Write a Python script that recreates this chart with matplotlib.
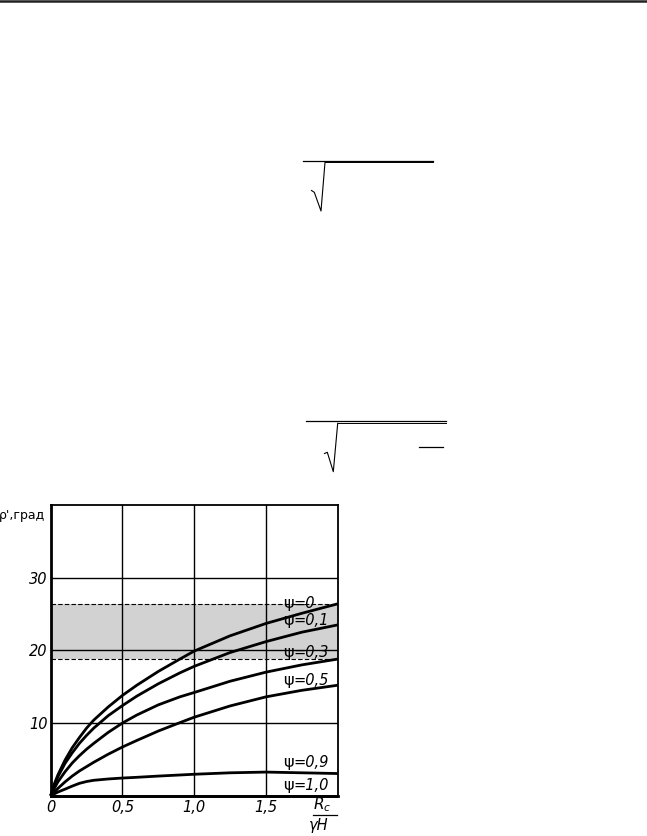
import matplotlib
matplotlib.use("Agg")
import matplotlib.pyplot as plt
from matplotlib.lines import Line2D

# ---- data ----
x_vals = [0, 0.025, 0.05, 0.1, 0.15, 0.2, 0.25, 0.3, 0.4, 0.5, 0.6, 0.75, 0.9,
          1.0, 1.25, 1.5, 1.75, 2.0]
psi_0 = [0, 1.6, 2.85, 4.9, 6.6, 8.0, 9.3, 10.4, 12.2, 13.8, 15.2, 17.1, 18.8,
         19.9, 22.0, 23.7, 25.1, 26.4]
psi_01 = [0, 1.45, 2.6, 4.45, 5.9, 7.2, 8.3, 9.3, 11.0, 12.4, 13.7, 15.4, 16.9,
          17.8, 19.7, 21.2, 22.5, 23.5]
psi_03 = [0, 1.0, 1.9, 3.3, 4.5, 5.5, 6.4, 7.2, 8.7, 10.0, 11.1, 12.5, 13.6,
          14.2, 15.75, 17.0, 18.0, 18.8]
psi_05 = [0, 0.5, 1.0, 1.9, 2.7, 3.4, 4.0, 4.6, 5.7, 6.7, 7.6, 8.9, 10.05,
          10.8, 12.35, 13.6, 14.5, 15.2]
psi_09 = [0, 0.25, 0.5, 0.9, 1.32, 1.7, 1.95, 2.12, 2.3, 2.43, 2.53, 2.7, 2.85,
          2.95, 3.15, 3.25, 3.15, 3.05]
psi_10 = [0] * len(x_vals)

series = [psi_0, psi_01, psi_03, psi_05, psi_09, psi_10]
labels = ["=0", "=0,1", "=0,3", "=0,5", "=0,9", "=1,0"]
label_y = [26.5, 24.1, 19.7, 15.8, 4.6, 1.4]
label_x = 1.62

band_low, band_high = 18.8, 26.4
x_ticks = [0, 0.5, 1.0, 1.5]
x_tick_labels = ["0", "0,5", "1,0", "1,5"]
y_ticks = [10, 20, 30]
y_tick_labels = ["10", "20", "30"]

W, H = 647, 836
fig = plt.figure(figsize=(W / 100, H / 100), dpi=100)
fig.patch.set_facecolor("white")

def px(x, y):
    return (x / W, 1 - y / H)

def fig_line(pts, lw=1.0, color="black"):
    xs = [px(a, b)[0] for a, b in pts]
    ys = [px(a, b)[1] for a, b in pts]
    fig.add_artist(Line2D(xs, ys, transform=fig.transFigure, lw=lw, color=color))

# page decorations (top rule and formula fragments)
fig_line([(0, 1.3), (W, 1.3)], lw=1.8, color="#222222")
fig_line([(303, 160.7), (433, 160.7)], lw=0.9)
fig_line([(325, 162.3), (433, 162.3)], lw=0.7)
fig_line([(311.5, 190.5), (314.3, 192.3), (321, 211), (325, 162.3)], lw=0.8)
fig_line([(305.7, 421.3), (446, 421.3)], lw=0.9)
fig_line([(337.7, 423.3), (446, 423.3)], lw=0.7)
fig_line([(324.5, 453.5), (327.3, 452.3), (333.3, 471.7), (337.7, 423.3)], lw=0.8)
fig_line([(419.3, 447.3), (443.3, 447.3)], lw=0.9)

ax = fig.add_axes([0.07836, 0.04821, 0.44359, 0.34772])
ax.set_xlim(0, 2.0)
ax.set_ylim(0, 40)

ax.axhspan(band_low, band_high, color="#d2d2d2", lw=0, zorder=0)
ax.axhline(band_low, color="black", lw=0.8, ls=(0, (4, 2)), zorder=1)
ax.axhline(band_high, color="black", lw=0.8, ls=(0, (4, 2)), zorder=1)

for g in [0.5, 1.0, 1.5]:
    ax.axvline(g, color="black", lw=1.0, zorder=1)
for g in y_ticks:
    ax.axhline(g, color="black", lw=1.0, zorder=1)

for s in series:
    ax.plot(x_vals, s, color="black", lw=2.0, zorder=3, clip_on=False,
            solid_capstyle="butt", solid_joinstyle="round")

fs = 10.5
for lab, ly in zip(labels, label_y):
    t = ax.text(label_x, ly, "ψ", fontsize=fs + 1, family="DejaVu Sans",
                va="center", ha="left", zorder=4)
    ax.annotate(lab, xy=(1, 0), xycoords=t, va="bottom", ha="left",
                fontsize=fs, family="DejaVu Sans", style="italic", zorder=4)

ax.set_xticks(x_ticks)
ax.set_xticklabels(x_tick_labels, fontsize=10.5, style="italic", family="DejaVu Sans")
ax.set_yticks(y_ticks)
ax.set_yticklabels(y_tick_labels, fontsize=10.5, style="italic", family="DejaVu Sans")
ax.tick_params(length=0, pad=3)
ax.tick_params(axis="y", pad=2)

for side in ["left", "bottom"]:
    ax.spines[side].set_linewidth(2.0)
for side in ["top", "right"]:
    ax.spines[side].set_linewidth(1.3)

# axis labels
ax.text(-0.02, 0.965, "ρ',град", transform=ax.transAxes, ha="right", va="center",
        fontsize=9, family="DejaVu Sans")
ax.text(1.895, -1.25, "$R_c$", ha="center", va="center", fontsize=11, clip_on=False)
ax.plot([1.826, 1.993], [-2.6, -2.6], color="black", lw=0.9, clip_on=False)
ax.text(1.868, -4.1, "γH", ha="center", va="center", fontsize=10.5,
        style="italic", family="DejaVu Sans", clip_on=False)

fig.savefig("out.png", dpi=100)
